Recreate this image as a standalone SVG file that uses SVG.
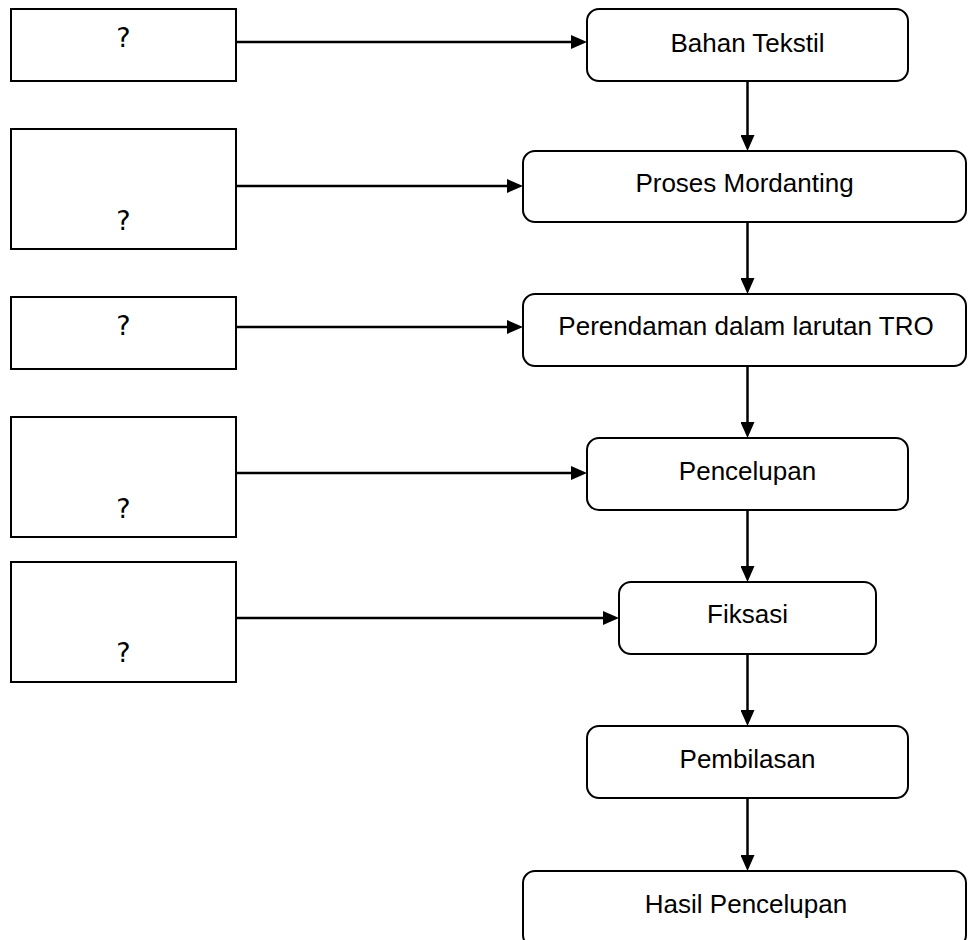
<svg xmlns="http://www.w3.org/2000/svg" width="968" height="940" viewBox="0 0 968 940">
  <defs>
    <style>
      .inbox { fill: #ffffff; stroke: #000000; stroke-width: 2; }
      .step { fill: #ffffff; stroke: #000000; stroke-width: 2; }
      .q { font-family: "DejaVu Sans", sans-serif; font-size: 27px; fill: #000000; text-anchor: middle; }
      .lbl { font-family: "Liberation Sans", Arial, sans-serif; font-size: 26px; fill: #000000; text-anchor: middle; }
      .conn { fill: none; stroke: #000000; stroke-width: 2.5; marker-end: url(#head); }
    </style>
    <marker id="head" viewBox="0 0 16 14" refX="8" refY="7" markerWidth="16" markerHeight="14" markerUnits="userSpaceOnUse" orient="auto">
      <path d="M0,0 L16,7 L0,14 Z" fill="#000000"/>
    </marker>
  </defs>
  <rect width="968" height="940" fill="#ffffff"/>

  <!-- input boxes on the left -->
  <g id="input1"><rect class="inbox" x="11" y="9" width="225" height="72"/><text class="q" x="123.5" y="47">?</text></g>
  <g id="input2"><rect class="inbox" x="11" y="129" width="225" height="120"/><text class="q" x="123.5" y="230">?</text></g>
  <g id="input3"><rect class="inbox" x="11" y="297" width="225" height="72"/><text class="q" x="123.5" y="335">?</text></g>
  <g id="input4"><rect class="inbox" x="11" y="417" width="225" height="120"/><text class="q" x="123.5" y="518">?</text></g>
  <g id="input5"><rect class="inbox" x="11" y="562" width="225" height="120"/><text class="q" x="123.5" y="662">?</text></g>

  <!-- process steps on the right -->
  <g id="bahan"><rect class="step" x="587" y="9" width="321" height="72" rx="12"/><text class="lbl" x="747.5" y="52">Bahan Tekstil</text></g>
  <g id="mordanting"><rect class="step" x="523" y="151" width="443" height="71" rx="12"/><text class="lbl" x="744.5" y="192">Proses Mordanting</text></g>
  <g id="perendaman"><rect class="step" x="523" y="294" width="443" height="72" rx="12"/><text class="lbl" x="746" y="335">Perendaman dalam larutan TRO</text></g>
  <g id="pencelupan"><rect class="step" x="587" y="438" width="321" height="72" rx="12"/><text class="lbl" x="747.5" y="480">Pencelupan</text></g>
  <g id="fiksasi"><rect class="step" x="619" y="582" width="257" height="72" rx="12"/><text class="lbl" x="747.5" y="623">Fiksasi</text></g>
  <g id="pembilasan"><rect class="step" x="587" y="726" width="321" height="72" rx="12"/><text class="lbl" x="747.5" y="768">Pembilasan</text></g>
  <g id="hasil"><rect class="step" x="523" y="871" width="443" height="76" rx="12"/><text class="lbl" x="746" y="913">Hasil Pencelupan</text></g>

  <!-- connectors -->
  <g id="connectors">
    <line class="conn" x1="236" y1="42" x2="579" y2="42"/>
    <line class="conn" x1="236" y1="186" x2="515" y2="186"/>
    <line class="conn" x1="236" y1="327" x2="515" y2="327"/>
    <line class="conn" x1="236" y1="473" x2="579" y2="473"/>
    <line class="conn" x1="236" y1="618" x2="611" y2="618"/>
    <line class="conn" x1="747.5" y1="81" x2="747.5" y2="143"/>
    <line class="conn" x1="747.5" y1="222" x2="747.5" y2="286"/>
    <line class="conn" x1="747.5" y1="366" x2="747.5" y2="430"/>
    <line class="conn" x1="747.5" y1="510" x2="747.5" y2="574"/>
    <line class="conn" x1="747.5" y1="654" x2="747.5" y2="718"/>
    <line class="conn" x1="747.5" y1="798" x2="747.5" y2="863"/>
  </g>
</svg>
